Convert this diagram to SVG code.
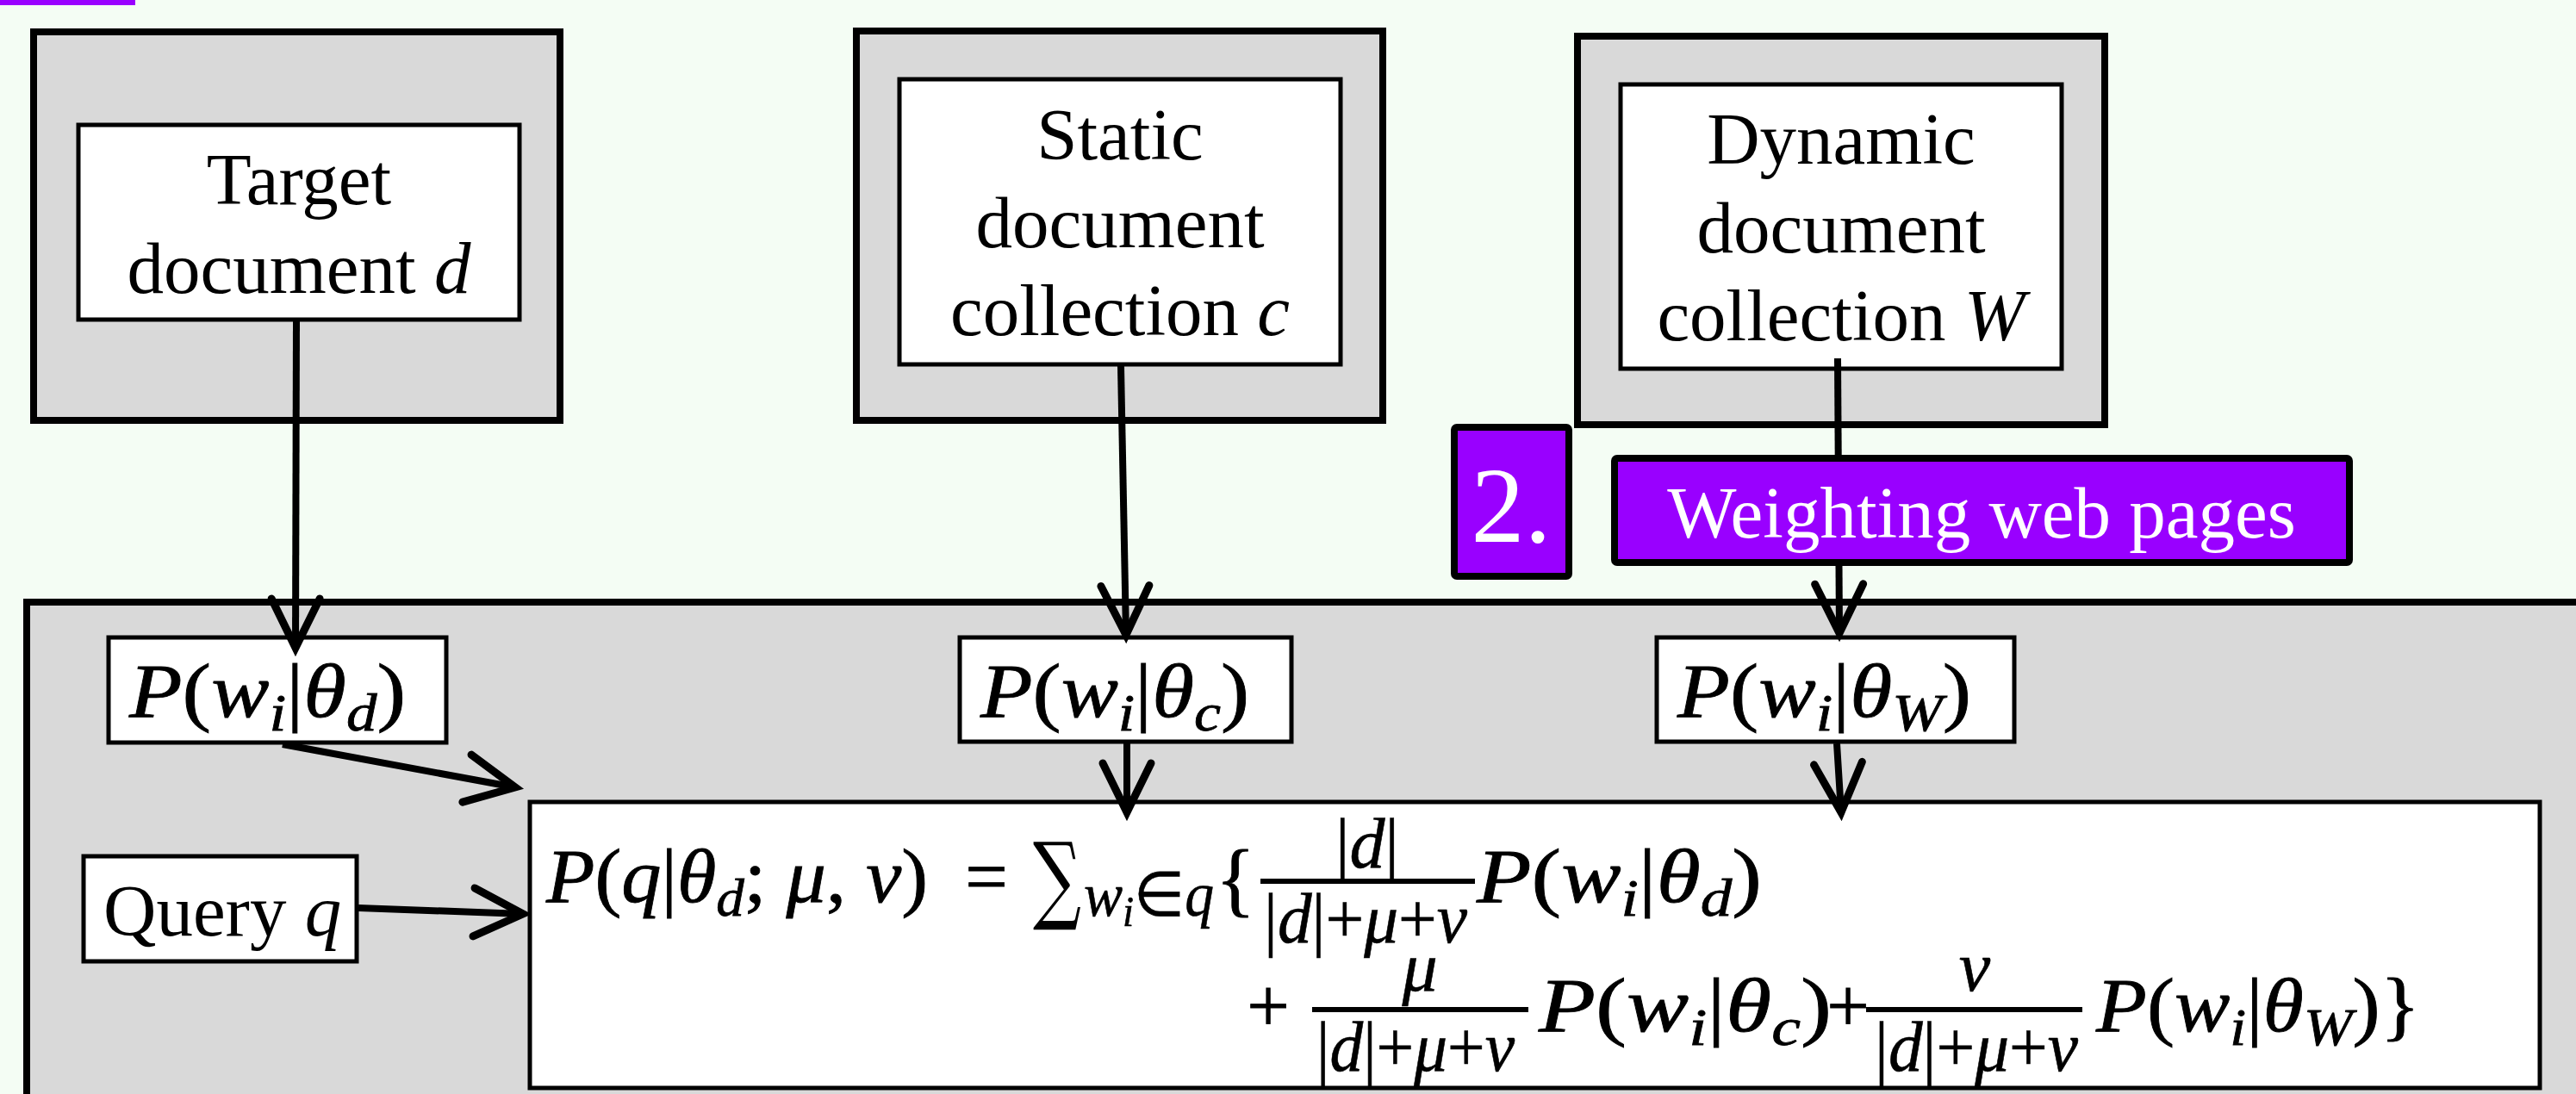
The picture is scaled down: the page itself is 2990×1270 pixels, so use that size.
<svg xmlns="http://www.w3.org/2000/svg" width="2990" height="1270" viewBox="0 0 2990 1270">
<defs>
<style>
.bg{fill:#F4FDF4}
.outer{fill:#D9D9D9;stroke:#000;stroke-width:8}
.inner{fill:#FFFFFF;stroke:#000;stroke-width:5}
.purple{fill:#9900FF;stroke:#000;stroke-width:8}
.t{font-family:"Liberation Serif","Times New Roman",serif;font-size:85px;fill:#000}
.w{fill:#FFFFFF}
.m{font-family:"Liberation Serif","Times New Roman",serif;font-size:88px;fill:#000;stroke:#000;stroke-width:0.8}
.f{font-family:"Liberation Serif","Times New Roman",serif;font-size:82px;fill:#000;stroke:#000;stroke-width:0.6}
.sum{font-family:"DejaVu Serif","Liberation Serif",serif;font-size:112px;fill:#000}
.i{font-style:italic}
.s{font-size:62px}
.conn line{stroke:#000;stroke-width:8;fill:none}
.bar{fill:#000}
</style>
<marker id="arr" markerUnits="userSpaceOnUse" markerWidth="90" markerHeight="90" viewBox="-70 -45 90 90" refX="0" refY="0" orient="auto" overflow="visible">
<path d="M-57,-28 L0,0 L-57,28" fill="none" stroke="#000" stroke-width="9" stroke-linecap="round" stroke-linejoin="miter"/>
</marker>
</defs>
<rect class="bg" x="0" y="0" width="2990" height="1270"/>
<rect x="0" y="0" width="157" height="6" fill="#9900FF"/>

<g id="target-document">
<rect class="outer" x="39" y="37" width="611" height="451"/>
<rect class="inner" x="91" y="145" width="512" height="226"/>
<text class="t" text-anchor="middle"><tspan x="347" y="237">Target</tspan><tspan x="347" y="340">document <tspan class="i">d</tspan></tspan></text>
</g>

<g id="static-collection">
<rect class="outer" x="994" y="36" width="611" height="452"/>
<rect class="inner" x="1044" y="92" width="512" height="331"/>
<text class="t" text-anchor="middle"><tspan x="1300" y="185">Static</tspan><tspan x="1300" y="287">document</tspan><tspan x="1300" y="389">collection <tspan class="i">c</tspan></tspan></text>
</g>

<g id="dynamic-collection">
<rect class="outer" x="1831" y="42" width="612" height="451"/>
<rect class="inner" x="1881" y="98" width="512" height="330"/>
<text class="t" text-anchor="middle"><tspan x="2137" y="190">Dynamic</tspan><tspan x="2137" y="293">document</tspan><tspan x="2137" y="395">collection <tspan class="i">W</tspan></tspan></text>
</g>

<g id="model-area">
<rect class="outer" x="31" y="699" width="3000" height="700"/>
</g>

<g id="p-theta-d">
<rect class="inner" x="126" y="740" width="392" height="122"/>
<text class="m" x="150" y="832" textLength="321" lengthAdjust="spacingAndGlyphs"><tspan class="i">P</tspan>(<tspan class="i">w</tspan><tspan class="i s" dy="16">i</tspan><tspan dy="-16">|</tspan><tspan class="i">θ</tspan><tspan class="i s" dy="16">d</tspan><tspan dy="-16">)</tspan></text>
</g>

<g id="p-theta-c">
<rect class="inner" x="1114" y="740" width="385" height="121"/>
<text class="m" x="1138" y="832" textLength="312" lengthAdjust="spacingAndGlyphs"><tspan class="i">P</tspan>(<tspan class="i">w</tspan><tspan class="i s" dy="16">i</tspan><tspan dy="-16">|</tspan><tspan class="i">θ</tspan><tspan class="i s" dy="16">c</tspan><tspan dy="-16">)</tspan></text>
</g>

<g id="p-theta-w">
<rect class="inner" x="1923" y="740" width="415" height="121"/>
<text class="m" x="1947" y="832" textLength="341" lengthAdjust="spacingAndGlyphs"><tspan class="i">P</tspan>(<tspan class="i">w</tspan><tspan class="i s" dy="16">i</tspan><tspan dy="-16">|</tspan><tspan class="i">θ</tspan><tspan class="i s" dy="16">W</tspan><tspan dy="-16">)</tspan></text>
</g>

<g id="query">
<rect class="inner" x="97" y="994" width="317" height="122"/>
<text class="t" x="120" y="1086">Query <tspan class="i">q</tspan></text>
</g>

<g id="formula">
<rect class="inner" x="615" y="931" width="2333" height="332"/>
<text class="m" x="634" y="1047" textLength="443" lengthAdjust="spacingAndGlyphs"><tspan class="i">P</tspan>(<tspan class="i">q</tspan>|<tspan class="i">θ</tspan><tspan class="i s" dy="16">d</tspan><tspan dy="-16">; </tspan><tspan class="i">μ</tspan>, <tspan class="i">ν</tspan>)</text>
<text class="m" x="1145" y="1047" text-anchor="middle">=</text>
<text class="sum" x="1199" y="1058" textLength="56" lengthAdjust="spacingAndGlyphs">∑</text>
<text class="f" x="1258" y="1063" style="font-size:72px" textLength="151" lengthAdjust="spacingAndGlyphs"><tspan class="i">w</tspan><tspan class="i" style="font-size:50px" dy="12">i</tspan><tspan dy="-12">∈</tspan><tspan class="i">q</tspan></text>
<text class="m" x="1411" y="1052" style="font-size:96px">{</text>
<text class="f" x="1587" y="1007" text-anchor="middle">|<tspan class="i">d</tspan>|</text>
<rect class="bar" x="1463" y="1020" width="249" height="6"/>
<text class="f" x="1467" y="1094" textLength="236" lengthAdjust="spacingAndGlyphs">|<tspan class="i">d</tspan>|+<tspan class="i">μ</tspan>+<tspan class="i">ν</tspan></text>
<text class="m" x="1714" y="1047" textLength="331" lengthAdjust="spacingAndGlyphs"><tspan class="i">P</tspan>(<tspan class="i">w</tspan><tspan class="i s" dy="16">i</tspan><tspan dy="-16">|</tspan><tspan class="i">θ</tspan><tspan class="i s" dy="16">d</tspan><tspan dy="-16">)</tspan></text>

<text class="m" x="1472" y="1197" text-anchor="middle">+</text>
<text class="f i" x="1648" y="1150" text-anchor="middle">μ</text>
<rect class="bar" x="1523" y="1169" width="251" height="6"/>
<text class="f" x="1528" y="1243" textLength="230" lengthAdjust="spacingAndGlyphs">|<tspan class="i">d</tspan>|+<tspan class="i">μ</tspan>+<tspan class="i">ν</tspan></text>
<text class="m" x="1786" y="1197" textLength="340" lengthAdjust="spacingAndGlyphs"><tspan class="i">P</tspan>(<tspan class="i">w</tspan><tspan class="i s" dy="16">i</tspan><tspan dy="-16">|</tspan><tspan class="i">θ</tspan><tspan class="i s" dy="16">c</tspan><tspan dy="-16">)</tspan></text>
<text class="m" x="2145" y="1197" text-anchor="middle">+</text>
<text class="f i" x="2292" y="1150" text-anchor="middle">ν</text>
<rect class="bar" x="2166" y="1169" width="251" height="6"/>
<text class="f" x="2176" y="1243" textLength="236" lengthAdjust="spacingAndGlyphs">|<tspan class="i">d</tspan>|+<tspan class="i">μ</tspan>+<tspan class="i">ν</tspan></text>
<text class="m" x="2433" y="1197" textLength="376" lengthAdjust="spacingAndGlyphs"><tspan class="i">P</tspan>(<tspan class="i">w</tspan><tspan class="i s" dy="16">i</tspan><tspan dy="-16">|</tspan><tspan class="i">θ</tspan><tspan class="i s" dy="16">W</tspan><tspan dy="-16">)}</tspan></text>
</g>

<g id="connectors" class="conn">
<line x1="344" y1="373" x2="343" y2="752" marker-end="url(#arr)"/>
<line x1="1301" y1="425" x2="1307" y2="737" marker-end="url(#arr)"/>
<line x1="2133" y1="416" x2="2135" y2="735" marker-end="url(#arr)"/>
<line x1="328" y1="864" x2="598" y2="914" marker-end="url(#arr)"/>
<line x1="416" y1="1054" x2="607" y2="1061" marker-end="url(#arr)"/>
<line x1="1308" y1="863" x2="1308" y2="943" marker-end="url(#arr)"/>
<line x1="2132" y1="863" x2="2137" y2="943" marker-end="url(#arr)"/>
</g>

<g id="step-number">
<rect class="purple" x="1688" y="496" width="133" height="173" rx="3"/>
<text class="t w" x="1754" y="629" style="font-size:124px" text-anchor="middle">2.</text>
</g>

<g id="weighting-web-pages">
<rect class="purple" x="1874" y="532" width="853" height="121" rx="3"/>
<text class="t w" x="2300" y="624" text-anchor="middle">Weighting web pages</text>
</g>
</svg>
